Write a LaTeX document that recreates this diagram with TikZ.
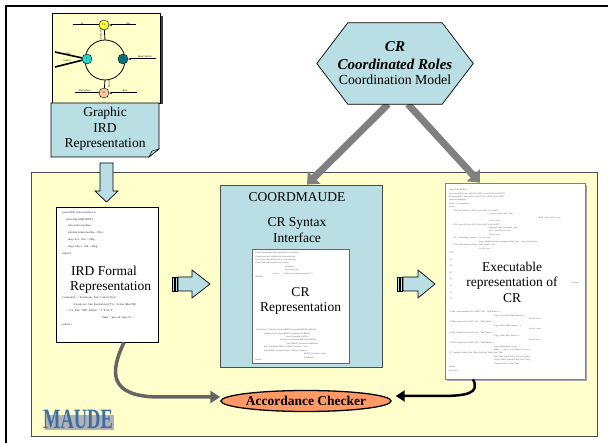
\documentclass[tikz,border=0pt]{standalone}
\usepackage{fontspec}
\setmainfont{Liberation Serif}
\usetikzlibrary{shapes.geometric,arrows.meta}

\definecolor{paleblue}{RGB}{185,222,228}
\definecolor{paleyellow}{RGB}{255,255,204}
\definecolor{accorange}{RGB}{255,153,102}
\definecolor{flowgrey}{RGB}{100,100,100}
\definecolor{linkgrey}{RGB}{128,128,128}
\definecolor{maudeblue}{RGB}{58,110,165}
\definecolor{tlyellow}{RGB}{255,255,60}
\definecolor{tkcyan}{RGB}{40,210,200}
\definecolor{rsteal}{RGB}{0,120,125}
\definecolor{brpeach}{RGB}{250,200,160}

\tikzset{
  docpage/.style={draw=black, fill=white, line width=0.8pt, inner sep=0pt},
  blockarrow/.style={draw=black, fill=paleblue, line width=0.7pt},
  bigtext/.style={font=\fontsize{13.5}{15.5}\selectfont, align=center, inner sep=0pt},
  hextext/.style={font=\fontsize{15}{17}\selectfont\bfseries\itshape, inner sep=0pt, anchor=base},
  codetext/.style={font=\fontsize{2.8}{6.9}\selectfont, align=left, inner sep=0pt,
    anchor=north west, text=black!85},
  tinycode/.style={font=\fontsize{2}{3.45}\selectfont, align=left, inner sep=0pt,
    anchor=north west, text=black!70},
  mininode/.style={circle, draw=black, line width=0.4pt, minimum size=10pt, inner sep=0pt,
    font=\fontsize{2.6}{3}\selectfont},
  minilabel/.style={font=\fontsize{2.6}{3}\selectfont\itshape, inner sep=0.4pt},
  hexlink/.style={draw=linkgrey, line width=7pt, -{Triangle[width=17pt,length=10pt]}},
}

\begin{document}
\begin{tikzpicture}[x=1pt, y=-1pt]
  \useasboundingbox (0,0) rectangle (608,443);
  \draw[line width=1.6pt] (6,443) -- (6,6) -- (608,6);

  % MAUDE area
  \node[draw=black!70, fill=paleyellow, line width=0.9pt, minimum width=566, minimum height=264,
    inner sep=0pt] (maudebox) at (314,304) {};
  \fill[black!30] (45,415) rectangle (114,430);
  \node[font=\fontsize{28}{28}\selectfont\bfseries, text=maudeblue, xscale=0.66] (maude)
    at (78,419.5) {MAUDE};

  % graphic IRD card
  \fill[black!75] (160,16) rectangle (163,104);
  \draw[fill=paleyellow, line width=0.6pt] (52,13) rectangle (160,103);
  \draw[fill=paleblue, line width=0.7pt] (51,103) -- (159,103) -- (159,149) -- (149,157)
    -- (51,157) -- cycle;
  \draw[fill=paleblue!60!black!40, line width=0.5pt] (149,157) -- (152,151) -- (159,149) -- cycle;
  \node[bigtext] (graphic) at (105,129) {Graphic\\IRD\\Representation};

  % small IRD graph
  \coordinate (inl) at (73,25);
  \coordinate (outr) at (136,25);
  \coordinate (givel) at (55,52);
  \coordinate (coll) at (55,67);
  \coordinate (readr) at (156,59);
  \coordinate (pulll) at (75,93);
  \coordinate (riser) at (137,93);
  \coordinate (ringtop) at (105,40);
  \coordinate (ringbot) at (105,80);
  \draw[line width=0.8pt] (105,60) circle[radius=20pt];
  \node[mininode, fill=tlyellow] (tl) at (104,25) {T.L.};
  \node[mininode, fill=tkcyan] (tk) at (87,59) {T};
  \node[mininode, fill=rsteal] (rs) at (123,59) {R.S};
  \node[mininode, fill=brpeach] (br) at (104,93) {B};
  \draw[line width=0.8pt] (tl) -- (ringtop);
  \draw[line width=0.8pt] (ringbot) -- (br);
  \draw[line width=1pt] (inl) -- (tl);
  \draw[line width=1pt, -{Stealth[length=3pt]}] (outr) -- (tl);
  \draw[line width=1.6pt] (givel) -- (tk);
  \draw[line width=1.6pt] (coll) -- (tk);
  \draw[line width=1pt, -{Stealth[length=3pt]}] (readr) -- (rs);
  \draw[double, line width=0.4pt] (pulll) -- (br);
  \draw[line width=1pt, -{Stealth[length=3pt]}] (riser) -- (br);
  \node[minilabel, above] (lin) at (82,25) {In};
  \node[minilabel, above] (lout) at (128,25) {Out};
  \node[minilabel, above] (lgive) at (68,55) {Give};
  \node[minilabel, above] (lcoll) at (67,62) {Collect};
  \node[minilabel, above] (lread) at (145,58) {Read\_Sticker};
  \node[minilabel, above] (lpull) at (85,92) {Pull\_down};
  \node[minilabel, above] (lrise) at (125,92) {Rise};
  \node[minilabel, rotate=90] (levent) at (101,34) {Event\_Out};
  \node[minilabel, rotate=90] (lsensor) at (109,84) {Sensor};

  % IRD formal representation
  \draw[blockarrow] (100,163) -- (113,163) -- (113,191) -- (118,191) -- (106.5,202)
    -- (95,191) -- (100,191) -- cycle;
  \node[docpage, minimum width=102, minimum height=135] (ird) at (107,274.5) {};
  \node[codetext] (irdtop) at (62,211) {(omod IRD\_ticket-machine is\\
    \hspace{4pt}protecting InIRLINEST .\\
    \hspace{6pt}class ticket-machine .\\
    \hspace{6pt}subclass ticket-machine < Sbst .\\
    \hspace{6pt}msg Give : Oid -> Msg .\\
    \hspace{6pt}msg Collect : Oid -> Msg .\\
    endom)};
  \node[bigtext, align=left, anchor=west] (irdtext) at (70,280) {\hspace{1pt}IRD Formal\\Representation};
  \node[codetext] (irdbot) at (62,296) {Constraint1 : < Event(sync, Sub, Collect('T)) or\\
    \hspace{12pt}Event(sync, Sub, Read-sticker('T)) > Action (Rise('R))\\
    \hspace{4pt}< 'Car\_Park : IRD | Ribstat : 'T 'R 'D 'T ,\\
    \hspace{40pt}Subst : 'pass-ch 'entry-ch > .\\
    endom )};

  \fill[blockarrow] (172,277) rectangle (174,291);
  \fill[blockarrow] (175,277) rectangle (177,291);
  \draw[blockarrow] (178,277) -- (192,277) -- (192,270) -- (210,284) -- (192,298)
    -- (192,291) -- (178,291) -- cycle;

  % COORDMAUDE
  \node[draw=black!70, fill=paleblue, line width=0.8pt, minimum width=162, minimum height=182,
    inner sep=0pt] (coord) at (301,276) {};
  \node[bigtext] (coordname) at (297,197) {COORDMAUDE};
  \node[bigtext] (syntax) at (297,230) {CR Syntax\\Interface};
  \node[draw=black!60, fill=white, line width=0.6pt, minimum width=97, minimum height=114,
    inner sep=0pt] (crrep) at (300.5,306) {};
  \node[tinycode] (crtop) at (255,252) {(Class ticket-machine RefCode Initial Give endClass)\\
    (Class barrier RefCode Rise Pull\_down endClass)\\
    (Class sp/in-reader RefCode Read\_Stick endClass)\\
    (Class TrafficLight State Red (Give Pass)\\
    \hspace{30pt}AttrBefore ...\\
    \hspace{30pt}RefCode In:Out\\
    \hspace{18pt}Spec In : ... *** RefCode centrance but clear ***\\
    endClass)};
  \node[bigtext] (crtext) at (300.5,301) {CR\\Representation};
  \node[tinycode] (crbot) at (256,329) {(Event Entry\_Ch RefObj X method REF(X) X method REF(X) endRefObj\\
    \hspace{8pt}RefEvent Syn On Event REF(X)\_Terminated for REF(X)\\
    \hspace{30pt}Event Terminated\_REF(X) .\\
    \hspace{24pt}Syn Not Event Request\_REF(X) for REF(X)\\
    \hspace{30pt}Cond: REF(X)\_Occupied endRefEvent\\
    \hspace{8pt}Spec Terminated\_REF(X) : REF(X)\_Occupied = True ; .\\
    \hspace{8pt}Spec REF(X)\_Occupied : Emur : REF(X)\_Occupied ;\\
    \hspace{48pt}REF(X)\_Occupied = False ;\\
    \hspace{48pt}kcfelk Run )};
  \node[tinycode] (crend) at (255,359) {endom)};

  \fill[blockarrow] (397,277) rectangle (399,291);
  \fill[blockarrow] (400,277) rectangle (402,291);
  \draw[blockarrow] (403,277) -- (418,277) -- (418,270) -- (435,284) -- (418,298)
    -- (418,291) -- (403,291) -- cycle;

  % executable representation
  \fill[black!35] (447,185) rectangle (587,381);
  \node[draw=black!50, fill=white, line width=0.6pt, minimum width=140, minimum height=196,
    inner sep=0pt] (exec) at (515,281) {};
  \node[tinycode] (exectop) at (449,189) {(omod CAR\_PARK is\\
    protecting ROOT\_entry-ch[Cls-Sc-ANT, Cpt-Sc-ANT, Svt-Sc-ANT] .\\
    protecting ROOT\_pass-ch[Cls-Sc-ANT, Cpt-Sc-ANT, Svt-Sc-ANT] .\\
    protecting DeRegSys .\\
    op init : -> Configuration .\\
    eq init =\\
    \hspace{3pt}< 'EN : pass-ch[Cls-Sc-ANT, Cpt-Sc-ANT, Svt-Sc-ANT] |\\
    \hspace{40pt}Occupied : false, ANT : false,\\
    \hspace{90pt}BUR : false, EnCtrl : false,\\
    \hspace{40pt}ActCnt : true ;\\
    \hspace{3pt}< 'EX : entry-ch[Cls-Sc-ANT, Cpt-Sc-ANT, Svt-Sc-ANT] |\\
    \hspace{40pt}Occupied : false, Occupied2 : false,\\
    \hspace{40pt}ANT : false, EnCtrl : false,\\
    \hspace{40pt}ActCnt : true ;\\
    \hspace{3pt}< 'TL : TrafficLight | Capacity : 5, Green : true,\\
    \hspace{30pt}State : (Red(Give) False, Green(Pass) True) | false : none , ActCnt : true >\\
    \hspace{3pt}< 'TM : ticket-machine | Ticket : none , Button : true ,\\
    \hspace{30pt}ActCnt : true >};
  \node[tinycode, font=\fontsize{2}{6.6}\selectfont] (execmid) at (449,252)
    {(* TS\\(* T\\(* T\\(* T\\(* T\\(* T\\(* T\\(* T};
  \node[bigtext] (exectext) at (512,282) {Executable\\representation of\\CR};
  \node[tinycode] (execside) at (572,282) {ky. true )};
  \node[tinycode] (execbot) at (449,311) {(* TMa : ticket-machine[Cls-Sc-ANT] | Obj : 'TMa, Rdntrd : 1,\\
    \hspace{45pt}Trigg : (Give-Rise('TMa), Button) > 1,\\
    \hspace{80pt}ActCnt : true )\\
    (* TMb : barrier[Cls-Sc-ANT] | Obj : 'TMb, Rdntrd : 1,\\
    \hspace{45pt}Trigg : (Rise('TMb), Button) > 1,\\
    \hspace{80pt}ActCnt : true )\\
    (* TMc : barrier[Cls-Sc-ANT] | Obj : 'TMc, Rdntrd : 1,\\
    \hspace{45pt}Trigg : (Pull('TMc), Button) > 1,\\
    \hspace{80pt}ActCnt : true )\\
    (* TMd : barrier[Cls-Sc-ANT] | Obj : 'TMd, Rdntrd : 1,\\
    \hspace{45pt}Trigg : (Read(Tmd), Occup),\\
    \hspace{45pt}Button : 1, ActCnt : (Occupied,0,1,2,3) true )\\
    (* T : mapRg | ScnReg | Init('TMa) | ScnCross('TMa) | Free('TM) |\\
    \hspace{45pt}Init('TMb) | Read('TMb) | ScnCross('TMb) |\\
    \hspace{45pt}Occup('TMd) | Entered('TMd) | Free('TMd) |\\
    \hspace{45pt}ScnCross('TMc) | Gone('TMc) .\\
    endom)\\
    (exec init .)};

  % coordination model
  \node[minimum width=94, minimum height=81, inner sep=0pt] (hex) at (395,63.5) {};
  \draw[hexlink] ([xshift=-7]hex.south) -- ([xshift=6]coord.north);
  \draw[hexlink] ([xshift=13]hex.south) -- ([xshift=-35]exec.north);
  \draw[fill=paleblue, line width=0.7pt] (hex.north west) -- (hex.north east) -- ([xshift=31]hex.east)
    -- (hex.south east) -- (hex.south west) -- ([xshift=-31]hex.west) -- cycle;
  \node[hextext] (hexcr) at (395,52) {CR};
  \node[hextext] (hexroles) at (395,70) {Coordinated Roles};
  \node[hextext, font=\fontsize{13.8}{15}\selectfont] (hexmodel) at (395,84.5) {Coordination Model};

  % accordance checker
  \node[ellipse, draw=black, fill=accorange, line width=1.3pt, minimum width=152, minimum height=21,
    inner sep=0pt, font=\fontsize{13.5}{15}\selectfont\bfseries] (acc) at (306,401) {Accordance Checker};
  \draw[draw=flowgrey, line width=3.5pt, -{Triangle[width=12pt,length=10pt]}]
    ([xshift=17]ird.south) .. controls (110,372) and (108,397) .. (160,397) -- ([yshift=4]acc.west);
  \draw[draw=black, line width=2.5pt, -{Triangle[width=11pt,length=9pt]}]
    ([xshift=-42]exec.south) .. controls (480,393) and (468,396) .. (440,396)
    -- ([xshift=4,yshift=5]acc.east);
\end{tikzpicture}
\end{document}
